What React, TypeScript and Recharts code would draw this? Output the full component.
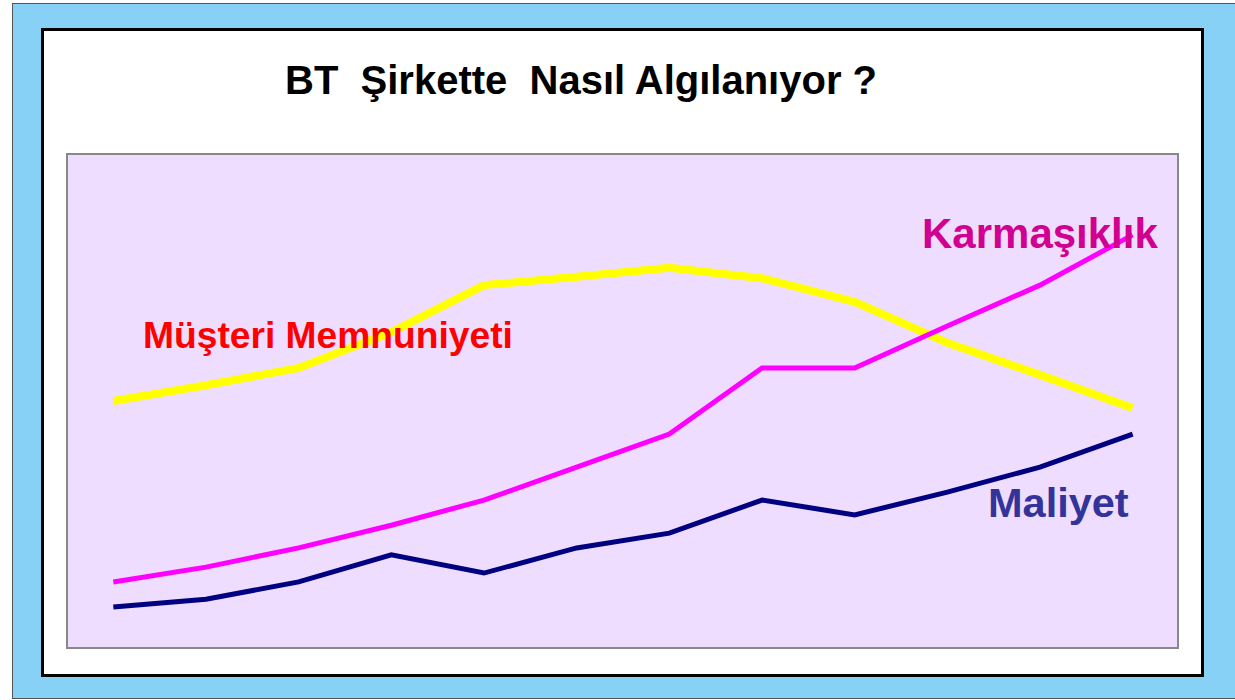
import React from 'react';
import { LineChart, Line, XAxis, YAxis } from 'recharts';

// 12 periods, values (0-100 scale)
const periods = [1, 2, 3, 4, 5, 6, 7, 8, 9, 10, 11, 12];
const memnuniyet = [49.9, 53.1, 56.6, 63.9, 73.4, 75.1, 76.9, 74.8, 70.0, 61.7, 55.2, 48.5];
const karmasiklik = [13.2, 16.2, 20.1, 24.7, 29.8, 36.5, 43.2, 56.6, 56.6, 65.1, 73.4, 83.6];
const maliyet = [8.1, 9.7, 13.2, 18.7, 15.0, 20.1, 23.1, 29.8, 26.8, 31.4, 36.5, 43.2];

const data = periods.map((p, i) => ({
  period: p,
  memnuniyet: memnuniyet[i],
  karmasiklik: karmasiklik[i],
  maliyet: maliyet[i],
}));

const font = '"Liberation Sans", Arial, sans-serif';

const App: React.FC = () => {
  return (
    <div style={{ position: 'absolute', left: 0, top: 0, width: 1235, height: 700, background: '#fff', overflow: 'hidden' }}>
      {/* blue frame */}
      <div style={{ position: 'absolute', left: 12, top: 3, width: 1240, height: 696, boxSizing: 'border-box', background: '#87D0F6', border: '1.5px solid #555' }} />
      {/* white panel */}
      <div style={{ position: 'absolute', left: 41, top: 28, width: 1163, height: 649, boxSizing: 'border-box', background: '#fff', border: '3px solid #000' }} />
      {/* plot box */}
      <div style={{ position: 'absolute', left: 66, top: 153, width: 1113, height: 496, boxSizing: 'border-box', background: '#EEDDFE', border: '2.5px solid #888' }} />

      <div style={{ position: 'absolute', left: 0, top: 0 }}>
        <LineChart width={1235} height={700} data={data} margin={{ top: 154, right: 56, bottom: 53, left: 67 }}>
          <XAxis type="number" dataKey="period" domain={[0.5, 12.5]} hide />
          <YAxis type="number" domain={[0, 100]} hide />
          <Line dataKey="memnuniyet" stroke="#FFFF00" strokeWidth={8} dot={false} activeDot={false} isAnimationActive={false} />
          <Line dataKey="karmasiklik" stroke="#FF00FF" strokeWidth={5} dot={false} activeDot={false} isAnimationActive={false} />
          <Line dataKey="maliyet" stroke="#000080" strokeWidth={5} dot={false} activeDot={false} isAnimationActive={false} />
        </LineChart>
      </div>

      <svg width={1235} height={700} style={{ position: 'absolute', left: 0, top: 0, pointerEvents: 'none' }}>
        <text x={285} y={94} fontFamily={font} fontWeight="bold" fontSize={40} fill="#000">
          {'BT\u00a0\u00a0Şirkette\u00a0\u00a0Nasıl Algılanıyor ?'}
        </text>
        <text x={143} y={348} fontFamily={font} fontWeight="bold" fontSize={37.2} fill="#FF0000">
          Müşteri Memnuniyeti
        </text>
        <text x={922} y={248} fontFamily={font} fontWeight="bold" fontSize={42} fill="#D10090">
          Karmaşıklık
        </text>
        <text x={988} y={517} fontFamily={font} fontWeight="bold" fontSize={41.5} fill="#333399">
          Maliyet
        </text>
      </svg>
    </div>
  );
};

export default App;
